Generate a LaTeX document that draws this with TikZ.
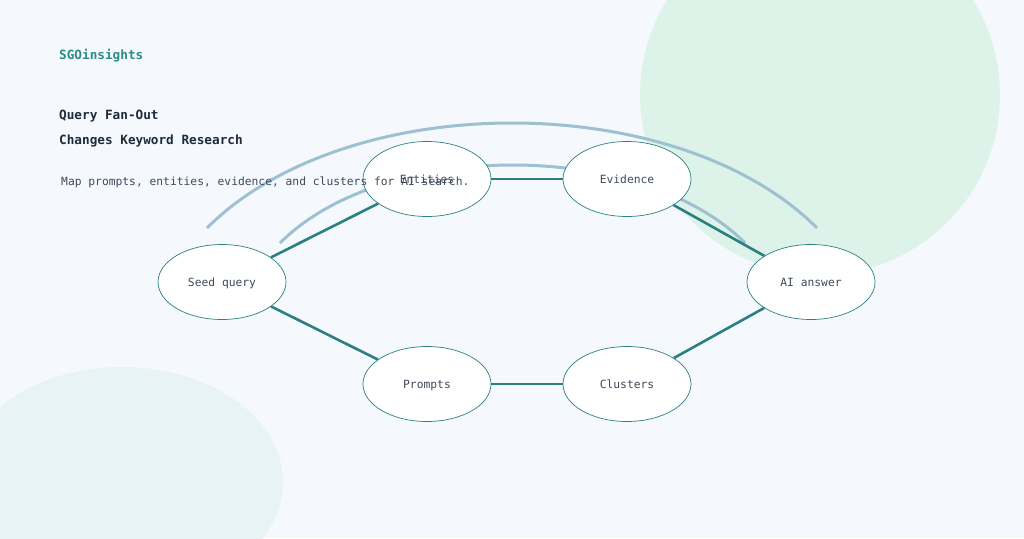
\documentclass[tikz,border=0pt]{standalone}
\usepackage{fontspec}
\setmonofont{DejaVu Sans Mono}
\usetikzlibrary{shapes.geometric}
\definecolor{bgpage}{HTML}{F5F9FE}
\definecolor{blobgreen}{HTML}{DDF3EA}
\definecolor{blobteal}{HTML}{E7F3F5}
\definecolor{teal}{HTML}{2A7F80}
\definecolor{brand}{HTML}{2E8B8A}
\definecolor{arcblue}{HTML}{9EC1D0}
\definecolor{ink}{HTML}{1F2B3A}
\definecolor{inksoft}{HTML}{3E4A5A}

\begin{document}
\begin{tikzpicture}[x=1pt,y=-1pt,
    topic/.style={draw=teal,line width=0.7pt,fill=white,ellipse,minimum width=128pt,minimum height=75pt,inner sep=0pt,
      text height=9.5pt,text depth=1pt,font=\ttfamily\fontsize{11.3}{13}\selectfont,text=inksoft},
    link/.style={draw=teal,line width=2.6pt},
    fan/.style={draw=arcblue,line width=3pt},
    label/.style={anchor=west,inner sep=0pt}]
          \useasboundingbox (0,0) rectangle (1024,538);
          \fill[bgpage] (0,0) rectangle (1024,538);
          \fill[blobgreen] (820,95) circle[radius=180];
          \fill[blobteal] (122,482) ellipse[x radius=161,y radius=115];

          \coordinate (f1) at (207,228);
          \coordinate (f2) at (817,228);
          \coordinate (g1) at (280,243);
          \coordinate (g2) at (745,243);
          \draw[fan] (f1) .. controls (347,88) and (677,88) .. (f2);
          \draw[fan] (g1) .. controls (384,139) and (641,139) .. (g2);

          \node[topic] (seed) at (222,282) {Seed query};
          \node[topic] (ent) at (427,179) {Entities};
          \node[topic] (evi) at (627,179) {Evidence};
          \node[topic] (ai) at (811,282) {AI answer};
          \node[topic] (pro) at (427,384) {Prompts};
          \node[topic] (clu) at (627,384) {Clusters};
          \path[link] (seed) edge (ent) (ent) edge (evi) (evi) edge (ai)
                      (seed) edge (pro) (pro) edge (clu) (clu) edge (ai);

          \node[label,text=brand,font=\ttfamily\bfseries\fontsize{12.7}{15}\selectfont] (brandname) at (59,56) {SGOinsights};
          \node[label,text=ink,font=\ttfamily\bfseries\fontsize{12.7}{15}\selectfont] (title1) at (59,116) {Query Fan-Out};
          \node[label,text=ink,font=\ttfamily\bfseries\fontsize{12.7}{15}\selectfont] (title2) at (59,141) {Changes Keyword Research};
          \node[label,text=inksoft,font=\ttfamily\fontsize{11.3}{13}\selectfont] (sub) at (61,182) {Map prompts, entities, evidence, and clusters for AI search.};
        \end{tikzpicture}
\end{document}
